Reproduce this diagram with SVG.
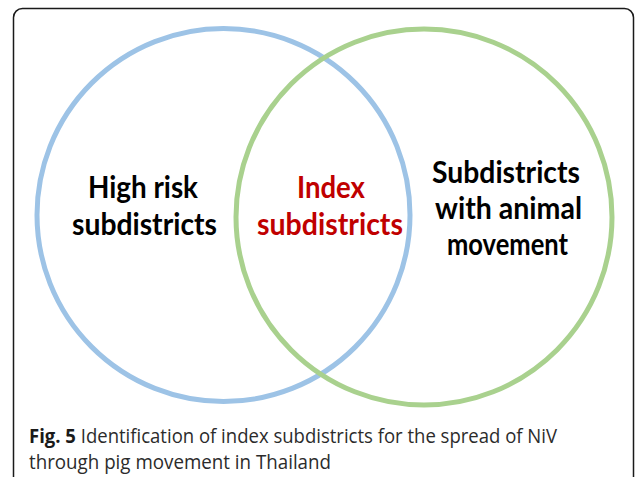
<svg xmlns="http://www.w3.org/2000/svg" width="637" height="477" viewBox="0 0 637 477">
  <style>
    .lbl { font-family: Lato, "Open Sans", sans-serif; font-weight: bold; font-size: 29.5px; text-anchor: middle; }
    .blk { fill: #000000; }
    .red { fill: #C00000; }
    .cap { font-family: "Open Sans", "Noto Sans", sans-serif; font-size: 19.5px; fill: #2b2b2b; }
    .ring { fill: none; stroke-width: 5; }
  </style>
  <rect x="0" y="0" width="637" height="477" fill="#ffffff"/>
  <rect id="frame" x="13.5" y="8.5" width="620" height="480" rx="9" ry="9" fill="none" stroke="#1a1a1a" stroke-width="1.5"/>
  <g id="connectors"></g>
  <g id="high-risk">
    <circle class="ring" cx="223.5" cy="215" r="186.5" stroke="#9DC3E6"/>
    <text class="lbl blk" x="143" y="198" textLength="110" lengthAdjust="spacingAndGlyphs">High risk</text>
    <text class="lbl blk" x="144.5" y="235" textLength="145" lengthAdjust="spacingAndGlyphs">subdistricts</text>
  </g>
  <g id="animal-movement">
    <circle class="ring" cx="424" cy="217" r="188" stroke="#A9D18E"/>
    <text class="lbl blk" x="506" y="183" textLength="148" lengthAdjust="spacingAndGlyphs">Subdistricts</text>
    <text class="lbl blk" x="508.5" y="219" textLength="147" lengthAdjust="spacingAndGlyphs">with animal</text>
    <text class="lbl blk" x="507.5" y="255" textLength="121" lengthAdjust="spacingAndGlyphs">movement</text>
  </g>
  <g id="index">
    <text class="lbl red" x="331" y="198" textLength="68" lengthAdjust="spacingAndGlyphs">Index</text>
    <text class="lbl red" x="330" y="235" textLength="146" lengthAdjust="spacingAndGlyphs">subdistricts</text>
  </g>
  <g id="caption">
    <text class="cap" x="29" y="443" textLength="528" lengthAdjust="spacingAndGlyphs"><tspan font-weight="bold" fill="#1a1a1a">Fig. 5</tspan> Identification of index subdistricts for the spread of NiV</text>
    <text class="cap" x="29" y="469" textLength="302" lengthAdjust="spacingAndGlyphs">through pig movement in Thailand</text>
  </g>
</svg>
